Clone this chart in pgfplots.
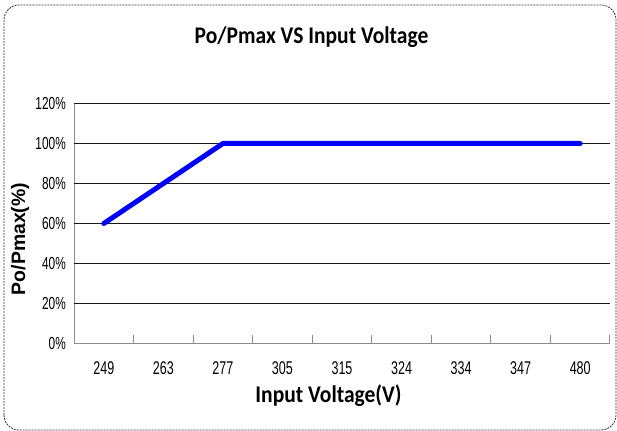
\documentclass[border=0pt]{standalone}
\usepackage{fontspec}
\setmainfont{Carlito}
\newfontfamily\titlefont[FakeStretch=0.9]{Carlito}
\newfontfamily\tickfont[FakeStretch=0.68]{Liberation Sans}
\newfontfamily\ylabfont{Liberation Sans}
\usepackage{pgfplots}
\pgfplotsset{compat=1.18}
\begin{document}
\begin{tikzpicture}
\path[use as bounding box] (0,0) rectangle (617bp,431bp);
\draw[black!80, line width=0.8bp, dash pattern=on 2bp off 1bp, rounded corners=15bp] (4bp,1bp) rectangle (616bp,426bp);
\begin{axis}[
  at={(74bp,87.5bp)}, anchor=south west,
  scale only axis, width=536bp, height=240bp,
  xmin=-0.5, xmax=8.5, ymin=0, ymax=120,
  clip=false,
  axis x line*=bottom, axis y line*=left,
  axis line style={draw=black!45, line width=1bp, -},
  xtick={0,...,8},
  xticklabels={249,263,277,305,315,324,334,347,480},
  ytick={0,20,...,120},
  yticklabels={0\%,20\%,40\%,60\%,80\%,100\%,120\%},
  major tick style={draw=none},
  xticklabel style={font=\tickfont\fontsize{18.5}{18.5}\selectfont, inner sep=0pt, anchor=north, yshift=-18bp},
  yticklabel style={font=\tickfont\fontsize{17.5}{17.5}\selectfont, inner sep=0pt, anchor=east, xshift=-8bp},
  extra x ticks={0.5,1.5,...,8.5},
  extra x tick labels={},
  extra x tick style={major tick style={draw=black!45, line width=1bp}, major tick length=8bp, tick align=inside},
  extra y ticks={20,40,...,120},
  extra y tick labels={},
  extra y tick style={ymajorgrids=true, major grid style={draw=black!90, line width=1.2bp}, major tick length=0pt},
]
\addplot[blue, line width=5bp, line cap=round, line join=round] coordinates {
(0,60) (1,80) (2,100) (3,100) (4,100) (5,100) (6,100) (7,100) (8,100)
};
\end{axis}
\node[anchor=base, font=\titlefont\bfseries\fontsize{24}{24}\selectfont] at (311.5bp,387bp) {Po/Pmax VS Input Voltage};
\node[anchor=base, font=\titlefont\bfseries\fontsize{24}{24}\selectfont] at (328.5bp,29bp) {Input Voltage(V)};
\node[anchor=base, rotate=90, font=\ylabfont\bfseries\fontsize{19.5}{19.5}\selectfont] at (25bp,192bp) {Po/Pmax(\%)};
\end{tikzpicture}
\end{document}
